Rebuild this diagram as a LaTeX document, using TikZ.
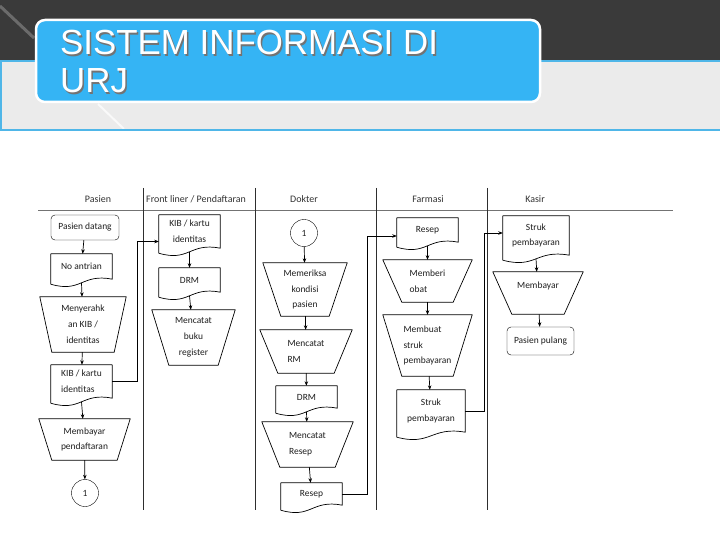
\documentclass[tikz,border=0pt]{standalone}
\usepackage{fontspec}
\setmainfont{Carlito}
\newfontfamily\titlefont{Liberation Sans}
\usetikzlibrary{arrows.meta}

\definecolor{bandgray}{HTML}{3A3A3A}
\definecolor{panelgray}{HTML}{EBEBEB}
\definecolor{skyblue}{HTML}{35B4F4}
\definecolor{rimblue}{HTML}{4FB6E8}
\definecolor{lanegray}{HTML}{2E2E2E}

\tikzset{
  box/.style={draw=none, inner sep=1bp, font=\fontsize{9.5}{16}\selectfont, align=center, text=black!88},
  proc/.style={box, draw, rounded corners=4bp},
  conn/.style={box, draw, circle, minimum size=27bp},
  flow/.style={-{Stealth[length=4.5bp,width=3.5bp]}, line width=0.7bp},
  outline/.style={line width=0.7bp, line join=round},
  lane/.style={lanegray, line width=0.9bp},
  head/.style={font=\fontsize{10}{12}\selectfont, text=black!80},
  title/.style={font=\titlefont\fontsize{35}{38}\selectfont, inner sep=0pt, anchor=base west},
}

\begin{document}
\begin{tikzpicture}[x=1bp, y=-1bp]
  \useasboundingbox (0,0) rectangle (720,540);
  \fill[white] (0,0) rectangle (720,540);

  % Slide background
  \fill[bandgray] (0,0) rectangle (720,62);
  \draw[white!25!bandgray, line width=3bp] (0,6) -- (34,38);
  \fill[panelgray] (0,61) rectangle (720,130);
  \draw[white, line width=2bp, opacity=0.7] (98,104) -- (124,129);
  \draw[rimblue, line width=2bp] (720,61) -- (1,61) -- (1,130) -- (720,130);

  % Title box
  \draw[white, line width=2.5bp, fill=skyblue, rounded corners=9bp] (36,20) rectangle (540,102);
  \node[title, text=black!55] (t1s) at (61.5,56.5) {SISTEM INFORMASI DI};
  \node[title, text=black!55] (t2s) at (61.5,94.5) {URJ};
  \node[title, text=white] (t1) at (60,55) {SISTEM INFORMASI DI};
  \node[title, text=white] (t2) at (60,93) {URJ};

  % Swimlanes
  \draw[black!55, line width=0.8bp] (38,210) -- (673,210);
  \foreach \x in {143, 255, 376, 487}
    \draw[lane] (\x,188) -- (\x,510);
  \node[head] (hpas) at (98,199) {Pasien};
  \node[head] (hfro) at (196,199) {Front liner / Pendaftaran};
  \node[head] (hdok) at (304,199) {Dokter};
  \node[head] (hfar) at (428,199) {Farmasi};
  \node[head] (hkas) at (535,199) {Kasir};

  % Pasien
  \node[proc, minimum width=68bp, minimum height=25bp] (datang) at (85,227.5) {Pasien datang};
  \node[box, minimum width=61bp, minimum height=25bp] (antri) at (81.5,266.5) {No antrian};
  \node[box, minimum width=86bp, minimum height=55bp] (serah) at (83,324.5) {Menyerahk\\an KIB /\\identitas};
  \node[box, align=left, minimum width=61bp, minimum height=33bp] (kibp) at (81.5,381.5) {KIB / kartu\\identitas};
  \node[box, minimum width=91bp, minimum height=41bp] (bayar) at (84.5,439.5) {Membayar\\pendaftaran};
  \node[conn] (c1) at (85,493) {1};

  % Front liner / Pendaftaran
  \node[box, minimum width=61bp, minimum height=33bp] (kibf) at (189.5,231.5) {KIB / kartu\\identitas};
  \node[box, minimum width=61bp, minimum height=24bp] (drmf) at (189.5,280) {DRM};
  \node[box, minimum width=83bp, minimum height=55bp] (buku) at (193.5,337.5) {Mencatat\\buku\\register};

  % Dokter
  \node[conn] (c1d) at (304,233) {1};
  \node[box, minimum width=84bp, minimum height=53bp] (periksa) at (305,289.5) {Memeriksa\\kondisi\\pasien};
  \node[box, align=left, minimum width=92bp, minimum height=43bp] (rm) at (306,351.5) {Mencatat\\RM};
  \node[box, minimum width=61bp, minimum height=22bp] (drmd) at (306.5,397) {DRM};
  \node[box, align=left, minimum width=91bp, minimum height=45bp] (resepcat) at (307.5,444.5) {Mencatat\\Resep};
  \node[box, minimum width=61bp, minimum height=22bp] (resepd) at (311.5,494) {Resep};

  % Farmasi
  \node[box, minimum width=61bp, minimum height=24bp] (resepf) at (427.5,230) {Resep};
  \node[box, align=left, minimum width=89bp, minimum height=42bp] (obat) at (427.5,281) {Memberi\\obat};
  \node[box, align=left, minimum width=89bp, minimum height=61bp] (buat) at (427.5,345.5) {Membuat\\struk\\pembayaran};
  \node[box, minimum width=68bp, minimum height=42bp] (strukf) at (431,411) {Struk\\pembayaran};

  % Kasir
  \node[box, minimum width=66bp, minimum height=39bp] (struk) at (536,235.5) {Struk\\pembayaran};
  \node[box, minimum width=90bp, minimum height=42bp] (bayark) at (538,293) {Membayar\\\phantom{x}};
  \node[proc, minimum width=67bp, minimum height=28bp] (pulang) at (540.5,341) {Pasien pulang};

  % Manual operation outlines
  \foreach \n/\i in {serah/12, bayar/13, buku/17, periksa/18, rm/18, resepcat/18, obat/19, buat/19, bayark/19}
    \draw[outline] (\n.north west) -- (\n.north east) -- ([xshift=-\i bp]\n.south east) -- ([xshift=\i bp]\n.south west) -- cycle;
  % Document outlines
  \foreach \n in {antri, kibp, kibf, drmf, drmd, resepd, resepf, strukf, struk}
    \draw[outline] ([yshift=-5bp]\n.south west) -- (\n.north west) -- (\n.north east) -- (\n.south east)
      .. controls ([yshift=6bp]\n.south) and ([yshift=-14bp]\n.south) .. ([yshift=-5bp]\n.south west);

  % Flow
  \draw[flow] (datang) -- (antri);
  \draw[flow] ([yshift=-3.6bp]antri.south) -- (serah);
  \draw[flow] (serah) -- (kibp);
  \draw[flow] ([yshift=-3.6bp]kibp.south) -- (bayar);
  \draw[flow] (bayar) -- (c1);
  \draw[flow] (kibp.east) -- ++(25,0) |- ([yshift=-10bp]kibf.west);
  \draw[flow] ([yshift=-3.6bp]kibf.south) -- (drmf);
  \draw[flow] ([yshift=-3.6bp]drmf.south) -- (buku);
  \draw[flow] (c1d) -- (periksa);
  \draw[flow] (periksa) -- (rm);
  \draw[flow] (rm) -- (drmd);
  \draw[flow] ([yshift=-3.6bp]drmd.south) -- (resepcat);
  \draw[flow] (resepcat) -- (resepd);
  \draw[flow] (resepd.east) -- ++(25,0) |- ([yshift=-6bp]resepf.west);
  \draw[flow] ([yshift=-3.6bp]resepf.south) -- (obat);
  \draw[flow] (obat) -- (buat);
  \draw[flow] (buat) -- (strukf);
  \draw[flow] (strukf.east) -- ++(19,0) |- ([yshift=2.5bp]struk.west);
  \draw[flow] ([yshift=-3.6bp]struk.south) -- (bayark);
  \draw[flow] (bayark) -- (pulang);
\end{tikzpicture}
\end{document}
